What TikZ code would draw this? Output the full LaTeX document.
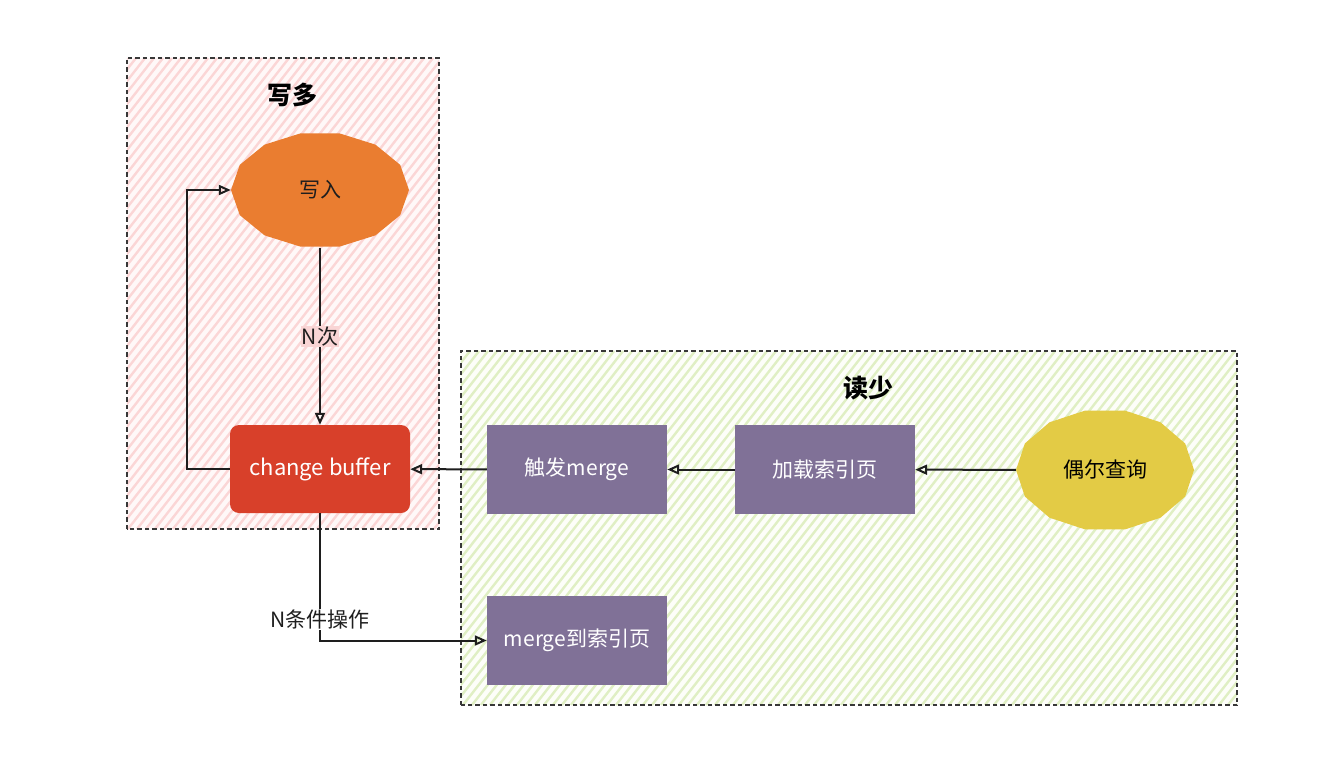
\documentclass[tikz,border=0pt]{standalone}
\usepackage{fontspec}
\setmainfont{Noto Sans CJK SC}
\usetikzlibrary{arrows.meta,shapes.geometric}
\definecolor{pinkline}{HTML}{FBD6D6}
\definecolor{pinkbg}{HTML}{FFF8F8}
\definecolor{greenline}{HTML}{E0EFC4}
\definecolor{greenbg}{HTML}{FDFEF9}
\definecolor{frame}{HTML}{383838}
\definecolor{orangefill}{HTML}{EA7D30}
\definecolor{redfill}{HTML}{D8402A}
\definecolor{purplefill}{HTML}{807197}
\definecolor{yellowfill}{HTML}{E3CB45}
\definecolor{npink}{HTML}{F9D5D5}
\definecolor{ink}{HTML}{1E1E1E}
\begin{document}
\begin{tikzpicture}[x=1pt,y=-1pt,
  grp/.style={draw=frame, line width=1.6pt, dash pattern=on 4.5pt off 3pt},
  hatch/.style={line width=2.4pt},
  ttl/.style={font=\fontsize{25}{30}\selectfont\bfseries, text=black},
  pbox/.style={fill=purplefill, minimum width=180pt, minimum height=89pt, inner sep=0pt, text=white, font=\fontsize{21}{25}\selectfont},
  arr/.style={draw=ink, line width=2pt, -{Triangle[open, length=12pt, width=10pt]}},
  lbl/.style={font=\fontsize{21}{25}\selectfont, text=ink, inner sep=1pt}
]
\useasboundingbox (0,0) rectangle (1320,784);

% groups
\node[fill=pinkbg, minimum width=312pt, minimum height=471pt, inner sep=0pt] (wgroup) at (283,293.5) {};
\begin{scope}
  \clip (wgroup.south west) rectangle (wgroup.north east);
  \foreach \x in {-250,-241,...,445} \draw[hatch, pinkline] (\x,529) -- ++(368,-471);
\end{scope}
\draw[grp] (wgroup.south west) rectangle (wgroup.north east);

\node[fill=greenbg, minimum width=776pt, minimum height=354pt, inner sep=0pt] (rgroup) at (849,528) {};
\begin{scope}
  \clip (rgroup.south west) rectangle (rgroup.north east);
  \foreach \x in {175,184,...,1245} \draw[hatch, greenline] (\x,705) -- ++(277,-354);
\end{scope}
\draw[grp] (rgroup.south west) rectangle (rgroup.north east);

\node[ttl] (wtitle) at (292,95) {写多};
\node[ttl] (rtitle) at (868,388) {读少};

% write ellipse
\fill[orangefill] plot[samples=15, domain=0:360, variable=\t] ({320+89*cos(\t)},{190+58*sin(\t)}) -- cycle;
\node[ellipse, minimum width=178pt, minimum height=116pt, inner sep=0pt, font=\fontsize{21}{25}\selectfont, text=ink] (write) at (320,190) {写入};

% change buffer
\node[fill=redfill, rounded corners=9pt, minimum width=180pt, minimum height=88pt, inner sep=0pt, text=white, font=\fontsize{22}{26}\selectfont] (cb) at (320,469) {change buffer};

% purple boxes
\node[pbox] (trig) at (577,469.5) {触发merge};
\node[pbox] (load) at (825,469.5) {加载索引页};
\node[pbox] (m2i) at (577,640.5) {merge到索引页};

% query ellipse
\fill[yellowfill] plot[samples=15, domain=0:360, variable=\t] ({1105+89*cos(\t)},{470+61*sin(\t)}) -- cycle;
\node[ellipse, minimum width=178pt, minimum height=122pt, inner sep=0pt, font=\fontsize{21}{25}\selectfont, text=black] (query) at (1105,470) {偶尔查询};

% connectors
\draw[arr] (query) -- (load);
\draw[arr] (load) -- (trig);
\draw[arr] (trig) -- (cb);
\draw[arr] (cb.west) -- ++(-43,0) |- (write.west);
\draw[arr] (write) -- node[lbl, fill=npink] {N次} (cb);
\draw[arr] (cb.south) |- node[lbl, fill=white, pos=0.418] {N条件操作} (m2i.west);
\end{tikzpicture}
\end{document}
